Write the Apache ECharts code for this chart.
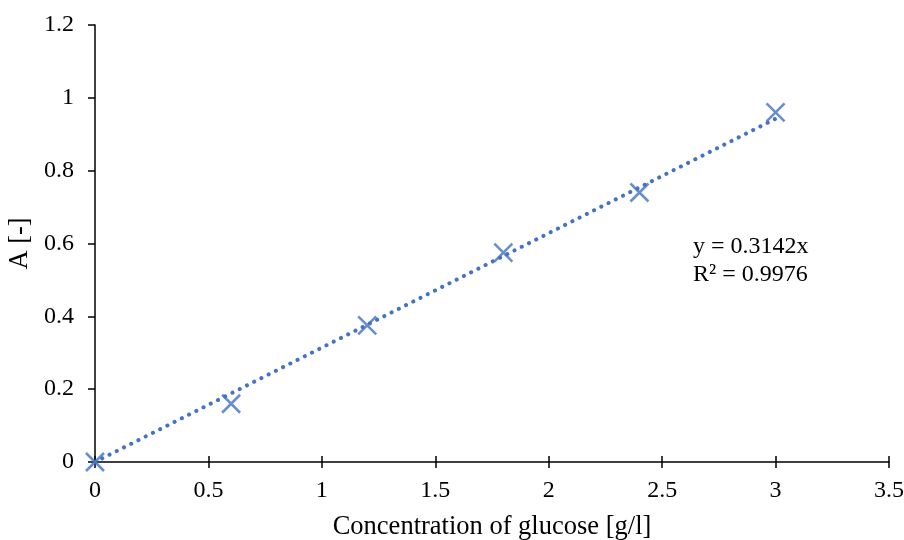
<!DOCTYPE html>
<html>
<head>
<meta charset="utf-8">
<script src="https://cdn.jsdelivr.net/npm/echarts@6/dist/echarts.min.js"></script>
<style>
  html, body { margin: 0; padding: 0; background: #fff; }
  #chart { width: 904px; height: 540px; }
</style>
</head>
<body>
<div id="chart"></div>
<script>
var concentration = [0, 0.6, 1.2, 1.8, 2.4, 3.0];
var absorbance = [0, 0.16, 0.375, 0.575, 0.74, 0.96];
// linear trendline through origin, y = 0.3142x
var trendX = [0, 3.0];
var trendY = [0, 0.9426];

var FONT = '"Liberation Serif", "Times New Roman", serif';
var BLUE = '#4472c4';

function pairs(xs, ys) {
    var arr = [];
    for (var i = 0; i < xs.length; i++) {
        arr.push([xs[i], ys[i]]);
    }
    return arr;
}

var myChart = echarts.init(document.getElementById('chart'));

var axisLine = { lineStyle: { color: '#000', width: 1.5 } };

var option = {
    animation: false,
    grid: { left: 95, right: 15, top: 25, bottom: 78, containLabel: false, outerBoundsMode: 'none' },
    xAxis: [{
        type: 'value',
        min: 0,
        max: 3.5,
        interval: 0.5,
        splitLine: { show: false },
        axisLine: axisLine,
        axisTick: { length: 6, lineStyle: { color: '#000', width: 1.5 } },
        axisLabel: { color: '#000', fontFamily: FONT, fontSize: 24, margin: 17 },
        name: 'Concentration of glucose [g/l]',
        nameLocation: 'middle',
        nameGap: 52,
        nameTextStyle: { color: '#000', fontFamily: FONT, fontSize: 26.5 }
    }, {
        // inner half of the crossing ticks
        type: 'value',
        position: 'bottom',
        min: 0,
        max: 3.5,
        interval: 0.5,
        splitLine: { show: false },
        axisLine: { show: false },
        axisTick: { inside: true, length: 6, lineStyle: { color: '#000', width: 1.5 } },
        axisLabel: { show: false }
    }],
    yAxis: {
        type: 'value',
        min: 0,
        max: 1.2,
        interval: 0.2,
        splitLine: { show: false },
        axisLine: { show: true, lineStyle: { color: '#000', width: 1.5 } },
        axisTick: { show: true, length: 7, lineStyle: { color: '#000', width: 1.5 } },
        axisLabel: { color: '#000', fontFamily: FONT, fontSize: 24, margin: 21 },
        name: 'A [-]',
        nameLocation: 'middle',
        nameGap: 53,
        nameTextStyle: { color: '#000', fontFamily: FONT, fontSize: 26.5 }
    },
    series: [{
        name: 'A',
        type: 'scatter',
        symbol: 'path://M0,0L10,10M10,0L0,10',
        symbolSize: 18,
        itemStyle: { color: 'none', borderColor: BLUE, borderWidth: 2.6 },
        data: pairs(concentration, absorbance),
        z: 2
    }, {
        name: 'Linear (A)',
        type: 'line',
        showSymbol: false,
        symbol: 'none',
        lineStyle: { color: BLUE, width: 4, type: [0.1, 8], cap: 'round' },
        data: pairs(trendX, trendY),
        z: 3
    }],
    graphic: [{
        type: 'text',
        left: 693,
        top: 233,
        style: {
            text: 'y = 0.3142x\nR² = 0.9976',
            fill: '#000',
            font: '24px ' + FONT,
            lineHeight: 28
        }
    }]
};

myChart.setOption(option);
</script>
</body>
</html>
